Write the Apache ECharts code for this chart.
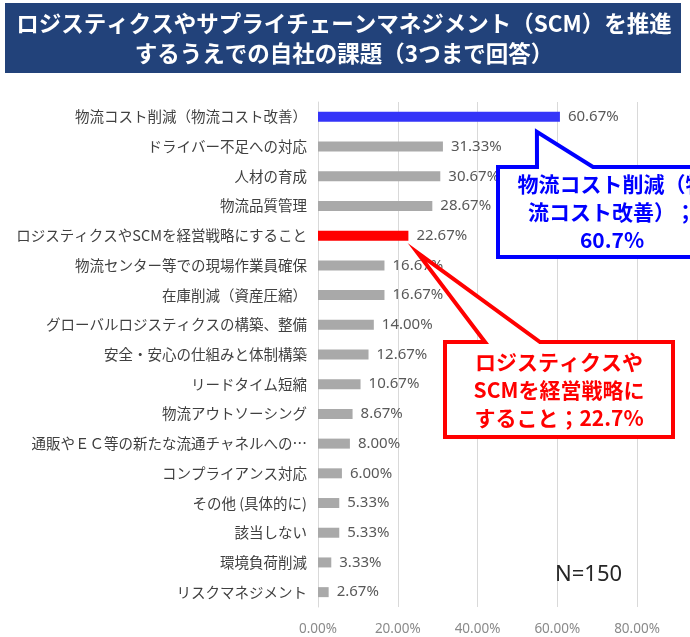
<!DOCTYPE html>
<html>
<head>
<meta charset="utf-8">
<script src="https://cdn.jsdelivr.net/npm/echarts@6/dist/echarts.min.js"></script>
<style>
  html, body { margin: 0; padding: 0; background: #fff; }
  #main { width: 690px; height: 637px; }
</style>
</head>
<body>
<div id="main"></div>
<script>
// 課題カテゴリ（上から順）
const categories = [
  '物流コスト削減（物流コスト改善）',
  'ドライバー不足への対応',
  '人材の育成',
  '物流品質管理',
  'ロジスティクスやSCMを経営戦略にすること',
  '物流センター等での現場作業員確保',
  '在庫削減（資産圧縮）',
  'グローバルロジスティクスの構築、整備',
  '安全・安心の仕組みと体制構築',
  'リードタイム短縮',
  '物流アウトソーシング',
  '通販やＥＣ等の新たな流通チャネルへの…',
  'コンプライアンス対応',
  'その他 (具体的に)',
  '該当しない',
  '環境負荷削減',
  'リスクマネジメント'
]
// 回答率(%)
const values = [60.67, 31.33, 30.67, 28.67, 22.67, 16.67, 16.67, 14.00, 12.67, 10.67, 8.67, 8.00, 6.00, 5.33, 5.33, 3.33, 2.67]
const xTicks = [0, 20, 40, 60, 80]

const FONT = '"Noto Sans CJK JP", "Noto Sans", sans-serif'
const NUM_FONT = '"Noto Sans", "Noto Sans CJK JP", sans-serif'
const BLUE_IDX = 0 // 物流コスト削減
const RED_IDX = 4 // 経営戦略

const chart = echarts.init(document.getElementById('main'))

const option = {
  animation: false,
  textStyle: { fontFamily: FONT },
  grid: { left: 318, right: 53, top: 102, bottom: 30 },
  xAxis: {
    type: 'value',
    min: xTicks[0],
    max: xTicks[xTicks.length - 1],
    interval: 20,
    axisLine: { show: false },
    axisTick: { show: false },
    splitLine: { lineStyle: { color: '#d9d9d9', width: 1 } },
    axisLabel: {
      color: '#8a8a8a',
      fontSize: 13.5,
      margin: 15,
      fontFamily: NUM_FONT,
      formatter: v => v.toFixed(2) + '%'
    }
  },
  yAxis: {
    type: 'category',
    inverse: true,
    data: categories,
    axisTick: { show: false },
    axisLine: { lineStyle: { color: '#d9d9d9', width: 1 } },
    axisLabel: { color: '#404040', fontSize: 14.5, margin: 11, fontFamily: FONT }
  },
  series: [{
    type: 'bar',
    data: values,
    barWidth: 10,
    itemStyle: {
      color: p => p.dataIndex === BLUE_IDX ? '#3434f8' : (p.dataIndex === RED_IDX ? '#ff0000' : '#a9a9a9')
    },
    label: {
      show: true,
      position: 'right',
      distance: 8,
      color: '#595959',
      fontSize: 15,
      fontFamily: NUM_FONT,
      formatter: p => p.value.toFixed(2) + '%'
    }
  }]
}
chart.setOption(option)

// 吹き出し（バー端から先端位置を計算）
const blueEnd = chart.convertToPixel({ gridIndex: 0 }, [values[BLUE_IDX], BLUE_IDX])
const redEnd = chart.convertToPixel({ gridIndex: 0 }, [values[RED_IDX], RED_IDX])

function callout (l, t, r, b, b1, b2, tip) {
  return [[l, t], [b1, t], tip, [b2, t], [r, t], [r, b], [l, b]]
}

chart.setOption({
  graphic: [
    // タイトル
    {
      type: 'rect',
      shape: { x: 5, y: 3, width: 676, height: 70 },
      style: { fill: '#22427a' }
    },
    {
      type: 'text',
      x: 344, y: 38,
      style: {
        text: 'ロジスティクスやサプライチェーンマネジメント（SCM）を推進\nするうえでの自社の課題（3つまで回答）',
        fill: '#fff',
        font: 'bold 22.5px ' + FONT,
        textAlign: 'center',
        textVerticalAlign: 'middle',
        lineHeight: 30
      }
    },
    // 青の吹き出し
    {
      type: 'polygon',
      z: 100,
      shape: { points: callout(498, 167, 726, 257, 537, 593, [blueEnd[0] - 23, blueEnd[1] + 15]) },
      style: { fill: '#fff', stroke: '#0000ff', lineWidth: 4, lineJoin: 'miter' }
    },
    {
      type: 'text',
      z: 101,
      x: 612, y: 212,
      style: {
        text: '物流コスト削減（物\n流コスト改善）；\n60.7%',
        fill: '#0000ff',
        font: 'bold 21px ' + FONT,
        textAlign: 'center',
        textVerticalAlign: 'middle',
        lineHeight: 28
      }
    },
    // 赤の吹き出し
    {
      type: 'polygon',
      z: 100,
      shape: { points: callout(445, 342, 673, 437, 485, 540, [redEnd[0] + 9, redEnd[1] + 17]) },
      style: { fill: '#fff', stroke: '#ff0000', lineWidth: 4, lineJoin: 'miter' }
    },
    {
      type: 'text',
      z: 101,
      x: 559, y: 390,
      style: {
        text: 'ロジスティクスや\nSCMを経営戦略に\nすること；22.7%',
        fill: '#ff0000',
        font: 'bold 21px ' + FONT,
        textAlign: 'center',
        textVerticalAlign: 'middle',
        lineHeight: 28
      }
    },
    // N数
    {
      type: 'text',
      x: 555, y: 575,
      style: {
        text: 'N=150',
        fill: '#262626',
        font: '22px ' + NUM_FONT,
        textVerticalAlign: 'middle'
      }
    }
  ]
})
</script>
</body>
</html>
